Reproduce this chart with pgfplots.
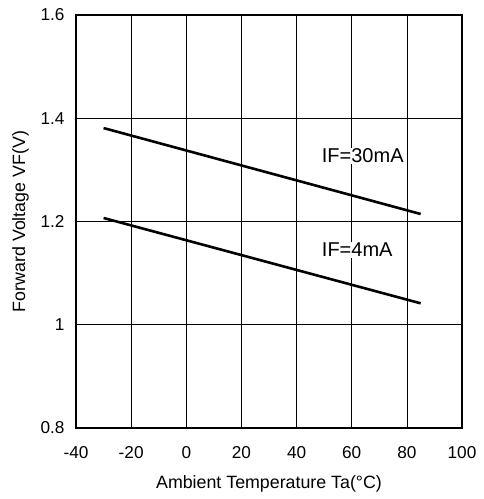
\documentclass[border=0pt]{standalone}
\usepackage{fontspec}
\setmainfont{Liberation Sans}
\usepackage{pgfplots}
\pgfplotsset{compat=1.18}
\begin{document}
\begin{tikzpicture}
\begin{axis}[
  scale only axis,
  width=386bp, height=413bp,
  xmin=-40, xmax=100, ymin=0.8, ymax=1.6,
  xtick={-40,-20,...,100},
  ytick={0.8,1.0,1.2,1.4,1.6},
  yticklabels={0.8,1,1.2,1.4,1.6},
  major tick length=0pt,
  grid=major,
  major grid style={black, line width=0.6bp},
  axis line style={black, line width=1.5bp},
  /pgf/number format/assume math mode=true,
  tick label style={font=\fontsize{17.2bp}{20bp}\selectfont},
  xticklabel style={yshift=-15bp},
  yticklabel style={xshift=-8bp},
  label style={font=\fontsize{17.8bp}{21bp}\selectfont},
  xlabel={Ambient Temperature Ta(°C)},
  ylabel={Forward Voltage VF(V)},
  xlabel style={yshift=-10bp},
  ylabel style={yshift=5bp},
  clip=false,
]
\addplot[black, line width=2.6bp] coordinates {(-30,1.381) (85,1.2145)};
\addplot[black, line width=2.6bp] coordinates {(-30,1.2068) (85,1.0415)};
\node[fill=white, inner sep=1bp, font=\fontsize{20bp}{24bp}\selectfont] at (axis cs:64,1.327) {IF=30mA};
\node[fill=white, inner sep=1bp, font=\fontsize{20bp}{24bp}\selectfont] at (axis cs:62,1.145) {IF=4mA};
\end{axis}
\pgfresetboundingbox
\path[use as bounding box] ([shift={(-76bp,-71bp)}]current axis.south west) rectangle ([shift={(21bp,15bp)}]current axis.north east);
\end{tikzpicture}
\end{document}
